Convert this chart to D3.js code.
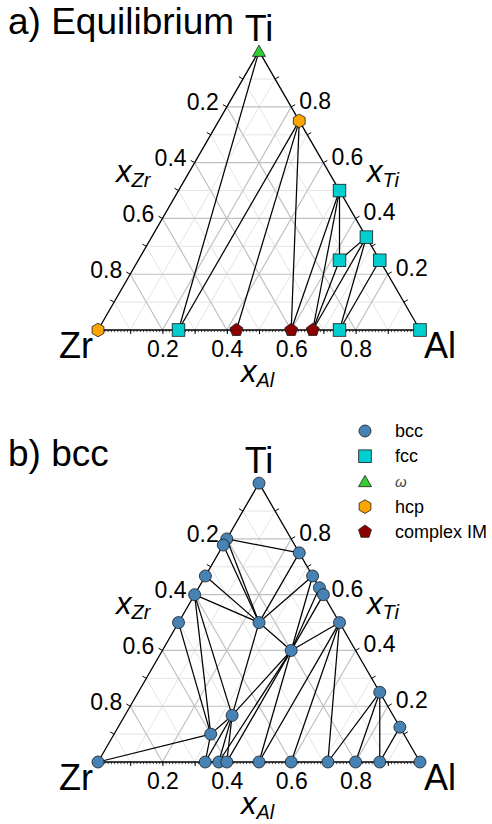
<!doctype html>
<html>
<head>
<meta charset="utf-8">
<script src="https://cdn.jsdelivr.net/npm/d3@7"></script>
<style>
  body { margin: 0; background: #fff; }
  svg text { font-family: "Liberation Sans", Arial, sans-serif; }
</style>
</head>
<body>
<div id="chart"></div>
<script>
// compositions given as x_Al and x_Ti, x_Zr is what is left
const eqPhase = ["omega", "hcp", "hcp", "fcc", "fcc", "fcc", "fcc", "fcc", "fcc", "fcc", "im", "im", "im"];
const eqAl = [0, 0.25, 0, 0.25, 0.5, 0.667, 0.625, 0.75, 0.75, 1, 0.43, 0.6, 0.667];
const eqTi = [1, 0.75, 0, 0, 0.5, 0.333, 0.25, 0.25, 0, 0, 0, 0, 0];
const eqTies = [[0, 3], [1, 3], [1, 10], [1, 11], [4, 11], [4, 12], [4, 6], [6, 12], [5, 6], [5, 12], [5, 8], [7, 8]];

const bccAl = [0, 0, 0, 0, 0, 0, 0, 0.25, 0.25, 0.333, 0.375, 0.4, 0.5, 0.4, 0.75, 0.875,
               0.3, 0.333, 0.333, 0.375, 0.4, 0.5, 0.6, 0.714, 0.8, 0.875, 1];
const bccTi = [1, 0.8, 0.778, 0.667, 0.6, 0.5, 0, 0.5, 0.75, 0.667, 0.625, 0.6, 0.5, 0.4, 0.25, 0.125,
               0.1, 0.167, 0, 0, 0, 0, 0, 0, 0, 0, 0];
const bccTies = [[1, 8], [1, 7], [2, 7], [8, 7], [3, 7], [4, 7], [9, 7], [7, 13], [9, 13], [10, 13],
                 [11, 13], [12, 13], [4, 17], [7, 17], [13, 17], [4, 16], [5, 16], [6, 16], [16, 17],
                 [16, 18], [17, 18], [17, 19], [17, 20], [13, 19], [13, 20], [13, 21], [12, 21],
                 [12, 22], [12, 23], [14, 23], [14, 24], [14, 25], [15, 25]];

const tickLabels = [0.2, 0.4, 0.6, 0.8];
const legendKeys = ["bcc", "fcc", "omega", "hcp", "im"];
const legendNames = ["bcc", "fcc", "ω", "hcp", "complex IM"];

const colors = { bcc: "#4682b4", fcc: "#00ced1", omega: "#32cd32", hcp: "#ffa500", im: "#8b0000" };

const width = 492, height = 824;
const svg = d3.select("#chart").append("svg")
  .attr("width", width)
  .attr("height", height);

function poly(n, r) {
  const pts = d3.range(n).map(i => {
    const a = i * 2 * Math.PI / n;
    return [r * Math.sin(a), -r * Math.cos(a)];
  });
  return "M" + pts.join("L") + "Z";
}

function marker(sel, phase) {
  let m;
  if (phase === "bcc") m = sel.append("circle").attr("r", 6);
  else if (phase === "fcc") m = sel.append("rect").attr("x", -6.3).attr("y", -6.3).attr("width", 12.6).attr("height", 12.6);
  else if (phase === "omega") m = sel.append("path").attr("d", poly(3, 7.5)).attr("transform", "translate(0,1.5)");
  else if (phase === "hcp") m = sel.append("path").attr("d", poly(6, 6.8));
  else m = sel.append("path").attr("d", poly(5, 6.8));
  m.attr("fill", colors[phase]).attr("stroke", "#1a1a1a").attr("stroke-width", 0.8);
}

function drawPanel(oy, title, al, ti, phase, ties) {
  const g = svg.append("g");
  const xs = d3.scaleLinear().domain([0, 1]).range([98, 420]);
  const ys = d3.scaleLinear().domain([0, 1]).range([330 + oy, 330 + oy - 322 * Math.sqrt(3) / 2]);
  const pt = (a, t) => [xs(a + t / 2), ys(t)];

  // grid
  const grid = g.append("g");
  d3.range(1, 10).forEach(i => {
    const v = i / 10, major = i % 2 === 0;
    [[pt(0, v), pt(1 - v, v)], [pt(v, 0), pt(v, 1 - v)], [pt(1 - v, 0), pt(0, 1 - v)]].forEach(s => {
      grid.append("line")
        .attr("x1", s[0][0]).attr("y1", s[0][1])
        .attr("x2", s[1][0]).attr("y2", s[1][1])
        .attr("stroke", major ? "#c0c0c0" : "#dcdcdc")
        .attr("stroke-width", major ? 1.2 : 0.8);
    });
  });

  // tie lines
  g.append("g").selectAll("line").data(ties).join("line")
    .attr("x1", d => pt(al[d[0]], ti[d[0]])[0])
    .attr("y1", d => pt(al[d[0]], ti[d[0]])[1])
    .attr("x2", d => pt(al[d[1]], ti[d[1]])[0])
    .attr("y2", d => pt(al[d[1]], ti[d[1]])[1])
    .attr("stroke", "#000")
    .attr("stroke-width", 1.25);

  // border
  g.append("path")
    .attr("d", "M" + [pt(0, 0), pt(1, 0), pt(0, 1)].join("L") + "Z")
    .attr("fill", "none")
    .attr("stroke", "#000")
    .attr("stroke-width", 1.3);

  // bottom axis (x_Al)
  const fmt = d => tickLabels.includes(Math.round(d * 10) / 10) ? d3.format(".1f")(d) : "";
  const bottom = g.append("g")
    .attr("transform", `translate(0,${330 + oy})`)
    .call(d3.axisBottom(xs).tickValues(d3.range(1, 10).map(i => i / 10)).tickSize(4).tickPadding(7).tickFormat(fmt));
  bottom.select(".domain").remove();
  bottom.selectAll("text").attr("font-size", 23).attr("fill", "#000")
    .style("font-family", '"Liberation Sans", Arial, sans-serif');
  const minor = g.append("g")
    .attr("transform", `translate(0,${330 + oy})`)
    .call(d3.axisBottom(xs).tickValues(d3.range(1, 100).map(i => i / 100)).tickSize(2.2).tickFormat(""));
  minor.select(".domain").remove();
  minor.selectAll("line").attr("stroke-width", 0.7);

  // slanted axes: left is x_Zr, right is x_Ti
  const c = Math.sqrt(3) / 2;
  d3.range(1, 10).forEach(i => {
    const v = i / 10;
    const l = pt(0, 1 - v), r = pt(1 - v, v);
    g.append("line").attr("x1", l[0]).attr("y1", l[1]).attr("x2", l[0] - 4.5 * c).attr("y2", l[1] - 2.25)
      .attr("stroke", "#000").attr("stroke-width", 1);
    g.append("line").attr("x1", r[0]).attr("y1", r[1]).attr("x2", r[0] + 4.5 * c).attr("y2", r[1] - 2.25)
      .attr("stroke", "#000").attr("stroke-width", 1);
  });
  tickLabels.forEach(v => {
    const l = pt(0, 1 - v), r = pt(1 - v, v);
    g.append("text").attr("x", l[0] - 8).attr("y", l[1] - 4.5)
      .attr("text-anchor", "end").attr("dominant-baseline", "central")
      .attr("font-size", 23).text(d3.format(".1f")(v));
    g.append("text").attr("x", r[0] + 8).attr("y", r[1] - 6)
      .attr("text-anchor", "start").attr("dominant-baseline", "central")
      .attr("font-size", 23).text(d3.format(".1f")(v));
  });

  // axis titles
  const axisTitle = (x, y, sub) => {
    const t = g.append("text").attr("x", x).attr("y", y).attr("font-style", "italic");
    t.append("tspan").attr("font-size", 31).text("x");
    t.append("tspan").attr("font-size", 20).attr("dy", 5).text(sub);
  };
  axisTitle(116, 182 + oy, "Zr");
  axisTitle(367, 182 + oy, "Ti");
  axisTitle(241, 382 + oy, "Al");

  // corner labels
  g.append("text").attr("x", 259).attr("y", 41 + oy).attr("text-anchor", "middle").attr("font-size", 36).text("Ti");
  g.append("text").attr("x", 93).attr("y", 358 + oy).attr("text-anchor", "end").attr("font-size", 36).text("Zr");
  g.append("text").attr("x", 424).attr("y", 358 + oy).attr("text-anchor", "start").attr("font-size", 36).text("Al");

  // panel title
  g.append("text").attr("x", 8).attr("y", 34 + oy).attr("font-size", 37).text(title);

  // phase points
  g.append("g").selectAll("g").data(d3.range(al.length)).join("g")
    .attr("transform", i => `translate(${pt(al[i], ti[i])})`)
    .each(function(i) { marker(d3.select(this), phase[i]); });
}

drawPanel(0, "a) Equilibrium", eqAl, eqTi, eqPhase, eqTies);
drawPanel(432, "b) bcc", bccAl, bccTi, bccAl.map(() => "bcc"), bccTies);

// legend
const legend = svg.append("g").selectAll("g").data(legendKeys).join("g")
  .attr("transform", (d, i) => `translate(365,${431 + i * 25.2})`);
legend.each(function(d) { marker(d3.select(this), d); });
legend.append("text")
  .attr("x", 30)
  .attr("dominant-baseline", "central")
  .attr("font-size", (d) => d === "omega" ? 15 : 18)
  .attr("font-style", d => d === "omega" ? "italic" : null)
  .attr("fill", d => d === "omega" ? "#444" : "#000")
  .text((d, i) => legendNames[i]);
</script>
</body>
</html>
